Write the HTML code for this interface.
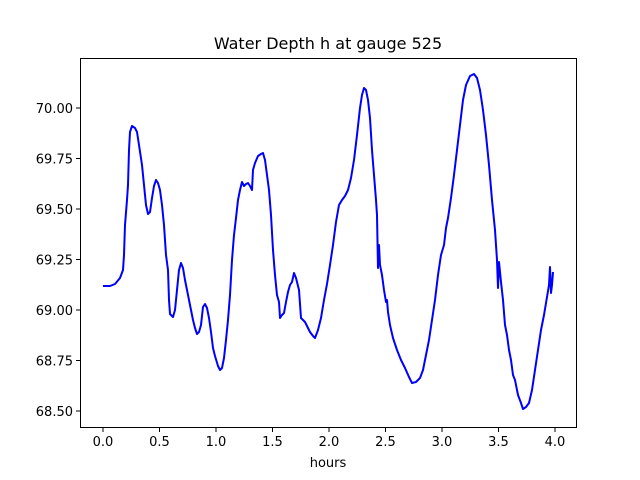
<!DOCTYPE html>
<html><head><meta charset="utf-8"><style>body{margin:0;background:#fff}svg{display:block}</style></head><body>
<svg width="640" height="480" xmlns="http://www.w3.org/2000/svg" font-family="DejaVu Sans, Liberation Sans, sans-serif">
<rect width="640" height="480" fill="#fff"/>
<text x="328" y="49" font-size="16" text-anchor="middle">Water Depth h at gauge 525</text>
<polyline fill="none" stroke="#0000ff" stroke-width="2" stroke-linejoin="round" points="103,286 110,286 115,284 120,278 123,270 124,255 125,225 127,200 128,185 129,150 130,132 132,126 135,128 137,132 139,145 142,165 144,185 146,205 148,214 150,212 152,198 154,186 156,180 158,183 160,190 162,205 164,225 166,255 168,270 169,300 170,314 173,317 175,310 177,290 179,270 181,263 183,268 185,280 187,290 189,300 191,310 193,320 195,328 197,334 199,332 201,325 203,307 205,304 207,308 209,318 211,332 213,348 215,356 218,366 220,370 222,368 224,358 226,340 228,320 230,295 232,260 234,235 236,218 238,200 240,190 242,182 244,186 246,184 248,183 250,186 252,190 253,170 255,163 258,156 261,154 263,153 265,160 267,175 269,190 271,215 273,250 275,275 277,295 279,302 280,318 282,315 284,313 286,302 288,292 290,285 292,282 294,273 296,278 297,282 299,290 301,318 303,320 305,322 307,326 310,332 313,336 315,338 318,330 321,318 324,300 327,284 330,265 333,245 336,222 339,205 342,200 345,196 348,190 351,178 354,160 357,135 360,108 362,95 364,88 366,90 368,100 370,118 372,150 374,175 376,200 377,215 378,268 379,245 380,265 382,275 384,290 386,302 387,300 388,312 390,325 393,338 397,350 401,360 405,368 409,377 412,383 416,382 420,378 423,370 426,355 429,340 432,320 435,300 438,275 441,255 444,245 446,228 448,218 451,198 454,175 457,150 460,125 463,100 466,85 470,76 474,74 477,78 480,90 483,110 486,135 489,165 492,200 495,230 497,260 498,288 499,262 501,282 503,300 505,325 507,335 509,350 511,360 513,375 515,380 518,395 521,403 523,409 526,407 529,403 532,390 535,370 538,350 541,330 544,315 547,297 549,285 550,267 551,293 552,285 553,272"/>
<rect x="80.5" y="58.5" width="496" height="369" fill="none" stroke="#000" stroke-width="1"/>
<g stroke="#000" stroke-width="1">
<line x1="103" y1="428" x2="103" y2="432"/><line x1="159.5" y1="428" x2="159.5" y2="432"/><line x1="216" y1="428" x2="216" y2="432"/><line x1="272.5" y1="428" x2="272.5" y2="432"/><line x1="329" y1="428" x2="329" y2="432"/><line x1="385.5" y1="428" x2="385.5" y2="432"/><line x1="442" y1="428" x2="442" y2="432"/><line x1="498.5" y1="428" x2="498.5" y2="432"/><line x1="555" y1="428" x2="555" y2="432"/>
<line x1="76" y1="108" x2="80" y2="108"/><line x1="76" y1="158.5" x2="80" y2="158.5"/><line x1="76" y1="209" x2="80" y2="209"/><line x1="76" y1="259.5" x2="80" y2="259.5"/><line x1="76" y1="310" x2="80" y2="310"/><line x1="76" y1="360.5" x2="80" y2="360.5"/><line x1="76" y1="411" x2="80" y2="411"/>
</g>
<g font-size="13" text-anchor="middle">
<text x="103" y="446">0.0</text><text x="159.5" y="446">0.5</text><text x="216" y="446">1.0</text><text x="272.5" y="446">1.5</text><text x="329" y="446">2.0</text><text x="385.5" y="446">2.5</text><text x="442" y="446">3.0</text><text x="498.5" y="446">3.5</text><text x="555" y="446">4.0</text>
<text x="328" y="467">hours</text>
</g>
<g font-size="13" text-anchor="end">
<text x="73" y="113">70.00</text><text x="73" y="163.5">69.75</text><text x="73" y="214">69.50</text><text x="73" y="264.5">69.25</text><text x="73" y="315">69.00</text><text x="73" y="365.5">68.75</text><text x="73" y="416">68.50</text>
</g>
</svg>
</body></html>
